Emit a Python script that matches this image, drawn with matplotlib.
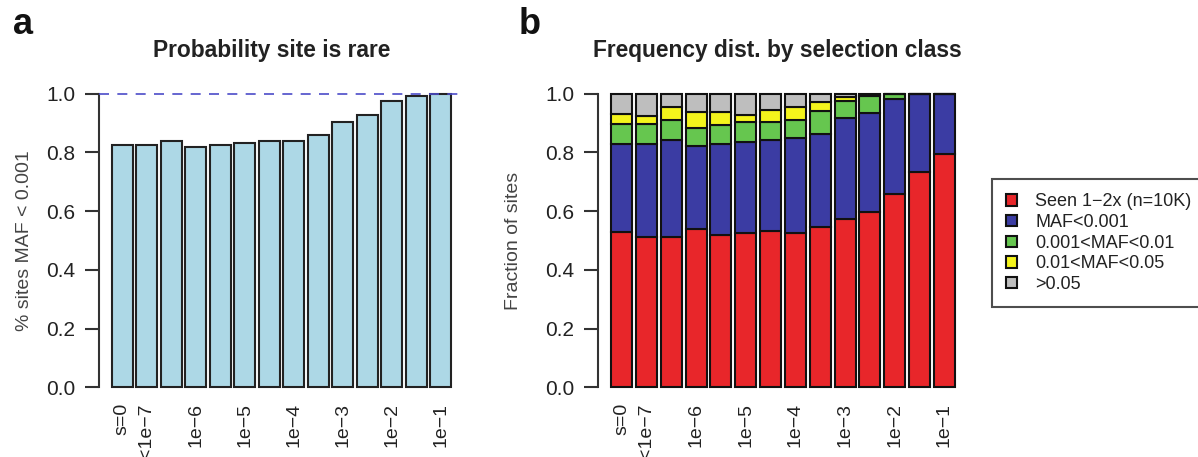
import numpy as np
import matplotlib
matplotlib.use("Agg")
import matplotlib.pyplot as plt
from matplotlib.patches import Patch

plt.rcParams['font.family'] = ['Liberation Sans', 'DejaVu Sans']

# selection classes (only every other class gets a tick label)
sel_labels = ["s=0", "<1e\u22127", "", "1e\u22126", "", "1e\u22125", "", "1e\u22124",
              "", "1e\u22123", "", "1e\u22122", "", "1e\u22121"]

# (a) probability that a site is rare (MAF < 0.001)
p_rare = [0.824, 0.824, 0.838, 0.818, 0.824, 0.831, 0.838, 0.838,
          0.858, 0.905, 0.926, 0.975, 0.994, 1.000]

# (b) fraction of sites per frequency class
seen_12x = [0.528, 0.513, 0.513, 0.539, 0.520, 0.526, 0.534, 0.526,
            0.547, 0.574, 0.597, 0.657, 0.734, 0.796]
maf_001 = [0.302, 0.317, 0.331, 0.284, 0.310, 0.311, 0.310, 0.324,
           0.317, 0.345, 0.336, 0.324, 0.266, 0.204]
maf_01 = [0.068, 0.068, 0.068, 0.061, 0.063, 0.068, 0.061, 0.062,
          0.076, 0.055, 0.059, 0.017, 0.000, 0.000]
maf_05 = [0.033, 0.027, 0.042, 0.054, 0.045, 0.021, 0.040, 0.042,
          0.033, 0.016, 0.005, 0.000, 0.000, 0.000]
maf_common = [0.069, 0.075, 0.046, 0.062, 0.062, 0.074, 0.055, 0.046,
              0.027, 0.010, 0.003, 0.002, 0.000, 0.000]

class_names = ["Seen 1\u22122x (n=10K)", "MAF<0.001", "0.001<MAF<0.01",
               "0.01<MAF<0.05", ">0.05"]
class_cols = ["#e8262a", "#3b3ca3", "#66c64f", "#f4f41c", "#bebebe"]

W, H = 1198, 457
fig = plt.figure(figsize=(W / 100, H / 100), dpi=100)


def style_axis(ax, ylab):
    for s in ["top", "right", "bottom"]:
        ax.spines[s].set_visible(False)
    ax.spines["left"].set_bounds(0, 1)
    ax.spines["left"].set_linewidth(1.5)
    ax.spines["left"].set_color("#333333")
    ax.set_ylim(-0.04, 1.04)
    ax.set_yticks([0, 0.2, 0.4, 0.6, 0.8, 1.0])
    ax.set_yticklabels(["0.0", "0.2", "0.4", "0.6", "0.8", "1.0"])
    ax.tick_params(axis="y", length=10, width=1.5, color="#333333",
                   labelsize=15, labelcolor="#222222", pad=7)
    ax.set_xticks(np.arange(len(sel_labels)))
    ax.set_xticklabels(sel_labels, rotation=90, ha="center", va="top")
    ax.tick_params(axis="x", length=0, labelsize=14, labelcolor="#222222", pad=3)
    ax.set_ylabel(ylab, fontsize=14, color="#444444")
    ax.set_xlim(-0.95, 13.95)


x = np.arange(len(sel_labels))

# panel a
ax1 = fig.add_axes([99 / W, 58 / H, 365 / W, 317 / H])
ax1.bar(x, p_rare, width=0.87, color="#add8e6", edgecolor="#222222", linewidth=1.5)
ax1.axhline(1.0, color="#4b4bc8", lw=1.2, dashes=(6, 5), zorder=5)
style_axis(ax1, "% sites MAF < 0.001")
ax1.yaxis.set_label_coords(-0.18, 0.5)

# panel b
ax2 = fig.add_axes([598 / W, 58 / H, 370 / W, 317 / H])
bottom = np.zeros(len(x))
for vals, col in zip([seen_12x, maf_001, maf_01, maf_05, maf_common], class_cols):
    ax2.bar(x, vals, bottom=bottom, width=0.85, color=col,
            edgecolor="#111111", linewidth=1.5)
    bottom += np.array(vals)
style_axis(ax2, "Fraction of sites")
ax2.yaxis.set_label_coords(-0.205, 0.5)

handles = [Patch(facecolor=c, edgecolor="#111111", linewidth=1.5) for c in class_cols]
leg = fig.legend(handles, class_names, loc="upper left",
                 bbox_to_anchor=(992 / W, 0, 0.2, 1 - 179 / H), mode="expand",
                 fontsize=13, frameon=True, fancybox=False, borderpad=0.8,
                 handlelength=0.6, handleheight=0.6, handletextpad=1.0,
                 labelspacing=0.2, borderaxespad=0)
leg.get_frame().set_edgecolor("#222222")
leg.get_frame().set_linewidth(1.5)
for t in leg.get_texts():
    t.set_color("#222222")

# titles and panel letters
fig.text(272 / W, 1 - 51 / H, "Probability site is rare", ha="center", va="center",
         fontsize=16.4, fontweight="bold", color="#222222")
fig.text(777 / W, 1 - 51 / H, "Frequency dist. by selection class", ha="center",
         va="center", fontsize=16.4, fontweight="bold", color="#222222")
fig.text(23 / W, 1 - 24 / H, "a", ha="center", va="center", fontsize=26,
         fontweight="bold", color="#111111")
fig.text(530 / W, 1 - 25 / H, "b", ha="center", va="center", fontsize=26,
         fontweight="bold", color="#111111")

fig.savefig("out.png", dpi=100)
